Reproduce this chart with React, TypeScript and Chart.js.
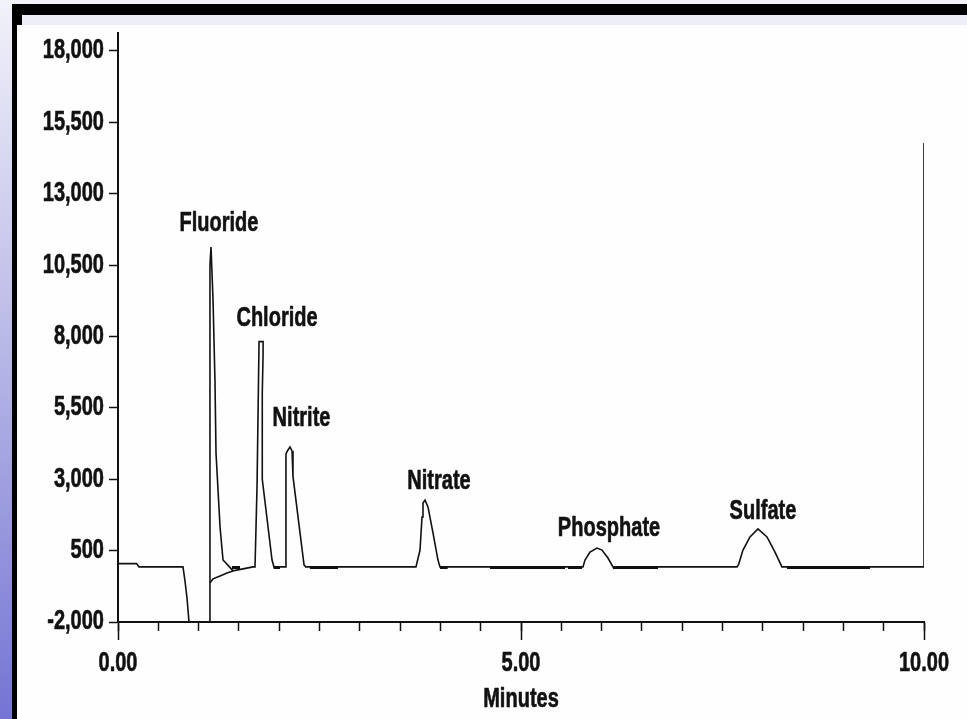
import React, { useEffect, useRef } from "react";
import { Chart, registerables } from "chart.js";

Chart.register(...registerables);

const FONT_FAMILY = "'Liberation Sans', Arial, sans-serif";
const FONT_SIZE = 26;
const TEXT_SQUEEZE = 0.77;
const TEXT_STRETCH_Y = 1.04;
const INK = "#111111";

// Axis ticks
const yTickValues = [-2000, 500, 3000, 5500, 8000, 10500, 13000, 15500, 18000];
const yTickLabels = ["-2,000", "500", "3,000", "5,500", "8,000", "10,500", "13,000", "15,500", "18,000"];
const xTickValues = [0, 0.5, 1, 1.5, 2, 2.5, 3, 3.5, 4, 4.5, 5, 5.5, 6, 6.5, 7, 7.5, 8, 8.5, 9, 9.5, 10];
const xMajorValues = [0, 5, 10];
const xMajorLabels = ["0.00", "5.00", "10.00"];
const xTitle = "Minutes";

// Main chromatogram trace (minutes, signal)
const traceTimes = [
  0.0, 0.23, 0.26, 0.806, 0.831, 0.856, 0.881, 1.141,
  1.141, 1.154, 1.179, 1.203, 1.216, 1.266, 1.303, 1.36, 1.427, 1.551, 1.675,
  1.70, 1.725, 1.75, 1.80, 1.80, 1.79, 1.79, 1.911, 1.935,
  2.072, 2.084, 2.109, 2.134, 2.159, 2.171, 2.308, 2.33,
  3.697, 3.747, 3.772, 3.784, 3.809, 3.846, 3.908, 3.970, 3.995,
  5.769, 5.794, 5.856, 5.943, 6.005, 6.079, 6.141,
  7.680, 7.70, 7.754, 7.841, 7.940, 8.052, 8.151, 8.238,
  10.0, 10.0,
];
const traceSignal = [
  45, 45, -70, -70, -560, -1160, -2000, -2000,
  10500, 11136, 9280, 6477, 3920, 1328, 172, 0, -210, -140, -70,
  -70, 2750, 7820, 7820, 7400, 6000, 3000, 172, -70,
  -70, 3885, 4025, 4130, 3990, 3100, 0, -70,
  -70, 520, 1680, 2170, 2270, 2030, 1120, 170, -70,
  -70, 170, 450, 590, 520, 240, -70,
  -70, 20, 520, 980, 1260, 980, 450, -70,
  -70, 14780,
];

// Baseline recovery after the system dip
const recoveryTimes = [1.141, 1.179, 1.266, 1.352, 1.427];
const recoverySignal = [-630, -490, -385, -280, -210];

// Integration baseline markers (thick segments)
const markerStarts = [1.414, 1.93, 2.38, 3.995, 4.615, 5.583, 6.141, 8.30];
const markerEnds = [1.514, 2.01, 2.73, 4.09, 5.546, 5.757, 6.70, 9.33];
const markerSignal = -95;

// Peak labels
const peakNames = ["Fluoride", "Chloride", "Nitrite", "Nitrate", "Phosphate", "Sulfate"];
const peakLabelTimes = [1.253, 1.973, 2.277, 3.983, 6.092, 8.002];
const peakLabelSignals = [11942, 8614, 5111, 2904, 1258, 1853];

function drawNarrowText(ctx: CanvasRenderingContext2D, text: string, x: number, y: number, align: CanvasTextAlign) {
  ctx.save();
  ctx.translate(x, y);
  ctx.scale(TEXT_SQUEEZE, TEXT_STRETCH_Y);
  ctx.textAlign = align;
  ctx.textBaseline = "middle";
  ctx.lineWidth = 0.6;
  ctx.strokeStyle = INK;
  ctx.lineJoin = "round";
  ctx.strokeText(text, 0, 0);
  ctx.fillText(text, 0, 0);
  ctx.restore();
}

export default function App() {
  const canvasRef = useRef<HTMLCanvasElement | null>(null);

  useEffect(() => {
    const canvas = canvasRef.current;
    if (!canvas) return;

    const tracePoints = traceTimes.map((t, i) => ({ x: t, y: traceSignal[i] }));
    const recoveryPoints = recoveryTimes.map((t, i) => ({ x: t, y: recoverySignal[i] }));
    const markerPoints: { x: number; y: number | null }[] = [];
    markerStarts.forEach((s, i) => {
      markerPoints.push({ x: s, y: markerSignal });
      markerPoints.push({ x: markerEnds[i], y: markerSignal });
      markerPoints.push({ x: markerEnds[i], y: null });
    });

    const decorPlugin = {
      id: "decor",
      afterDraw(chart: any) {
        const { ctx, chartArea, scales } = chart;
        const xs = scales.x;
        const ys = scales.y;
        ctx.save();
        // major tick extensions
        ctx.strokeStyle = INK;
        ctx.lineWidth = 1.5;
        xMajorValues.forEach((v) => {
          const px = Math.round(xs.getPixelForValue(v)) + 0.5;
          ctx.beginPath();
          ctx.moveTo(px, chartArea.bottom);
          ctx.lineTo(px, chartArea.bottom + 18);
          ctx.stroke();
        });
        ctx.fillStyle = INK;
        ctx.font = `bold ${FONT_SIZE}px ${FONT_FAMILY}`;
        // y tick labels
        yTickValues.forEach((v, i) => {
          drawNarrowText(ctx, yTickLabels[i], ys.left + ys.width - 14, ys.getPixelForValue(v), "right");
        });
        // x tick labels
        xMajorValues.forEach((v, i) => {
          drawNarrowText(ctx, xMajorLabels[i], xs.getPixelForValue(v), chartArea.bottom + 42, "center");
        });
        // x title
        drawNarrowText(ctx, xTitle, (chartArea.left + chartArea.right) / 2, chartArea.bottom + 78, "center");
        // peak labels
        peakNames.forEach((name, i) => {
          drawNarrowText(ctx, name, xs.getPixelForValue(peakLabelTimes[i]), ys.getPixelForValue(peakLabelSignals[i]), "center");
        });
        ctx.restore();
      },
    };

    const chart = new Chart(canvas, {
      type: "line",
      data: {
        datasets: [
          {
            data: tracePoints,
            borderColor: INK,
            borderWidth: 1.6,
            pointRadius: 0,
            tension: 0,
            fill: false,
          },
          {
            data: recoveryPoints,
            borderColor: INK,
            borderWidth: 1.6,
            pointRadius: 0,
            tension: 0,
            fill: false,
          },
          {
            data: markerPoints as any,
            borderColor: INK,
            borderWidth: 3,
            pointRadius: 0,
            tension: 0,
            fill: false,
            spanGaps: false,
          },
        ],
      },
      options: {
        responsive: false,
        animation: false,
        devicePixelRatio: 1,
        layout: { padding: { top: 33, right: 43, bottom: 0, left: 0 } },
        plugins: { legend: { display: false }, tooltip: { enabled: false }, title: { display: false } },
        scales: {
          x: {
            type: "linear",
            min: 0,
            max: 10,
            afterBuildTicks: (s: any) => {
              s.ticks = xTickValues.map((v) => ({ value: v }));
            },
            afterFit: (s: any) => {
              s.height = 97;
            },
            ticks: { display: false, autoSkip: false, maxRotation: 0 },
            grid: {
              drawOnChartArea: false,
              drawTicks: true,
              tickLength: 9,
              tickWidth: 1.5,
              tickColor: INK,
            },
            border: { display: true, color: INK, width: 2 },
            title: { display: false },
          },
          y: {
            type: "linear",
            min: -2000,
            max: 18630,
            afterBuildTicks: (s: any) => {
              s.ticks = yTickValues.map((v) => ({ value: v }));
            },
            afterFit: (s: any) => {
              s.width = 118;
            },
            ticks: { display: false, autoSkip: false },
            grid: {
              drawOnChartArea: false,
              drawTicks: true,
              tickLength: 9,
              tickWidth: 1.5,
              tickColor: INK,
            },
            border: { display: true, color: INK, width: 2 },
          },
        },
      },
      plugins: [decorPlugin],
    } as any);

    return () => chart.destroy();
  }, []);

  return (
    <div
      style={{
        position: "fixed",
        left: 0,
        top: 0,
        width: 967,
        height: 719,
        overflow: "hidden",
        background: "linear-gradient(to bottom, #f2f2fa 0%, #b6b6e6 50%, #7474d4 100%)",
      }}
    >
      <div style={{ position: "absolute", left: 12, top: 4, right: 0, bottom: 0, background: "#000" }} />
      <div style={{ position: "absolute", left: 22, top: 15, right: 0, height: 10, background: "#eeeef8" }} />
      <div style={{ position: "absolute", left: 17, top: 25, right: 0, bottom: 0, background: "#fefefe" }} />
      <canvas
        ref={canvasRef}
        width={967}
        height={719}
        style={{ position: "absolute", left: 0, top: 0, width: 967, height: 719 }}
      />
    </div>
  );
}
